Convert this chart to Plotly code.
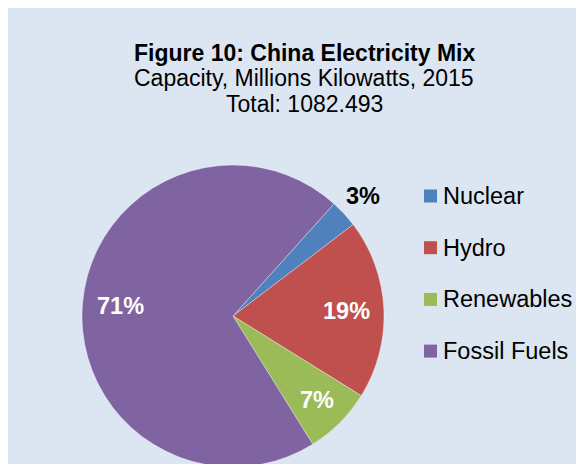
import math
import plotly.graph_objects as go

labels = ["Nuclear", "Hydro", "Renewables", "Fossil Fuels"]
capacity = [32.3, 207.8, 79.0, 763.393]
colors = ["#4F81BD", "#C0504D", "#9BBB59", "#8064A2"]
label_colors = ["black", "white", "white", "white"]
label_radius = [1.17, 0.75, 0.79, 0.75]   # fraction of pie radius
title_lines = ["Figure 10: China Electricity Mix",
               "Capacity, Millions Kilowatts, 2015",
               "Total: 1082.493"]

W, H = 592, 480
FONT = "Liberation Sans, Arial, sans-serif"
START = 42          # degrees clockwise from 12 o'clock
CX, CY, R = 225, 308, 151


def px_x(x):
    return x / W


def px_y(y):
    return 1 - y / H


fig = go.Figure(go.Pie(
    labels=labels,
    values=capacity,
    sort=False,
    direction="clockwise",
    rotation=START,
    marker=dict(colors=colors, line=dict(color="rgba(255,255,255,0.5)", width=0.7)),
    textinfo="none",
    domain=dict(x=[px_x(CX - R), px_x(CX + R)],
                y=[px_y(CY + R), px_y(CY - R)]),
    showlegend=False,
    hoverinfo="label+value+percent",
))

# percent labels, placed along each slice's middle angle
total = sum(capacity)
acc = 0
for v, col, rf in zip(capacity, label_colors, label_radius):
    mid = math.radians(START + (acc + v / 2) / total * 360)
    acc += v
    fig.add_annotation(
        text=f"<b>{v / total:.0%}</b>",
        x=px_x(CX + rf * R * math.sin(mid)), y=px_y(CY - rf * R * math.cos(mid)),
        xref="paper", yref="paper", xanchor="center", yanchor="middle",
        showarrow=False, font=dict(size=23.5, color=col, family=FONT),
    )

# title, three tight lines
for i, txt in enumerate(title_lines):
    fig.add_annotation(
        text=f"<b>{txt}</b>" if i == 0 else txt,
        x=0.5, y=px_y(44.5 + i * 25.9), xref="paper", yref="paper",
        xanchor="center", yanchor="middle", showarrow=False,
        font=dict(size=23, color="black", family=FONT),
    )

# legend on the right
for i, (lab, col) in enumerate(zip(labels, colors)):
    yc = 188 + i * 51.7
    fig.add_shape(type="rect", xref="paper", yref="paper",
                  x0=px_x(416), x1=px_x(429), y0=px_y(yc - 6.5), y1=px_y(yc + 6.5),
                  fillcolor=col, line_width=0)
    fig.add_annotation(
        text=lab, x=px_x(433), y=px_y(yc), xref="paper", yref="paper",
        xanchor="left", yanchor="middle", showarrow=False,
        font=dict(size=23.5, color="black", family=FONT),
    )

fig.update_layout(
    width=W, height=H,
    autosize=False,
    margin=dict(l=0, r=0, t=0, b=0),
    paper_bgcolor="#DCE6F2",
    plot_bgcolor="#DCE6F2",
)

fig.write_html("out.html")
